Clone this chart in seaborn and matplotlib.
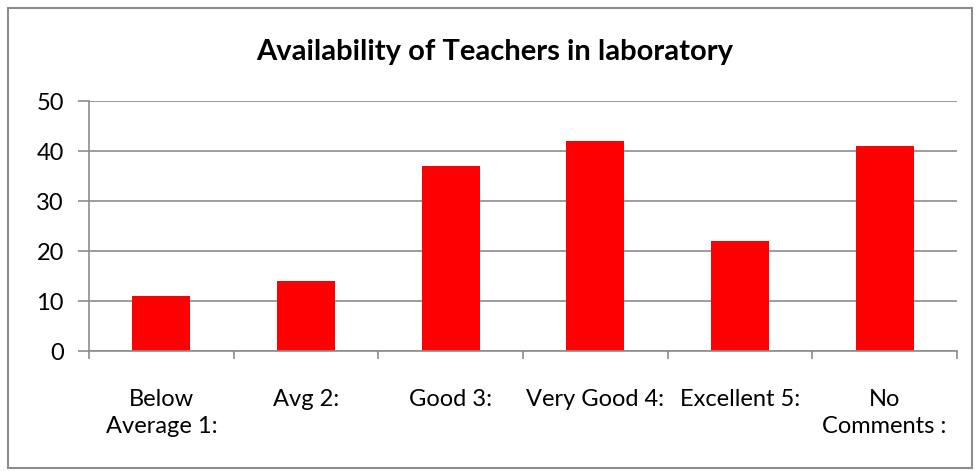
import numpy as np
import pandas as pd
import matplotlib
matplotlib.use("Agg")
import matplotlib.pyplot as plt
import seaborn as sns
from matplotlib.patches import Rectangle

# data
categories = ["Below\nAverage 1:", "Avg 2:", "Good 3:", "Very Good 4:", "Excellent 5:", "No\nComments :"]
counts = [11, 14, 37, 42, 22, 41]

df = pd.DataFrame({"rating": categories, "count": counts})

sns.set_style("white")
plt.rcParams["font.family"] = ["Lato", "DejaVu Sans"]
plt.rcParams["text.color"] = "black"
plt.rcParams["xtick.color"] = "black"
plt.rcParams["ytick.color"] = "black"

fig = plt.figure(figsize=(9.79, 4.71), dpi=100)
ax = fig.add_axes([89 / 979, 1 - 351 / 471, (957 - 89) / 979, 250 / 471])

sns.barplot(data=df, x="rating", y="count", color="#ff0000", width=0.4,
            saturation=1, linewidth=0, ax=ax)

ax.set_xlim(-0.5, len(categories) - 0.5)
ax.set_ylim(0, 50)
ax.set_yticks(range(0, 51, 10))
ax.yaxis.grid(True, color="#8c8c8c", linewidth=1.2)
ax.set_axisbelow(True)
ax.set_xlabel("")
ax.set_ylabel("")

for side in ["top", "right"]:
    ax.spines[side].set_visible(False)
for side in ["left", "bottom"]:
    ax.spines[side].set_color("#8c8c8c")
    ax.spines[side].set_linewidth(1.2)

# ticks at category boundaries, labels centred
ax.set_xticks(np.arange(len(categories)))
ax.set_xticklabels(categories, fontsize=17, va="top", ha="center", linespacing=1.4)
ax.tick_params(axis="x", which="major", length=0, pad=27, bottom=True)
ax.set_xticks(np.arange(-0.5, len(categories)), minor=True)
ax.tick_params(axis="x", which="minor", length=6, width=1.2, color="#8c8c8c",
               direction="out", bottom=True)
ax.tick_params(axis="y", length=8, width=1.2, color="#8c8c8c", direction="out",
               labelsize=17, pad=10, left=True)

fig.text(495 / 979, 1 - 52 / 471, "Availability of Teachers in laboratory",
         fontsize=21, fontweight="bold", ha="center", va="center")

# outer chart border
fig.patches.append(Rectangle((8 / 979, 3 / 471), 964 / 979, 460 / 471,
                             transform=fig.transFigure, fill=False,
                             edgecolor="#8c8c8c", linewidth=1.5))

fig.savefig("out.png", dpi=100)
